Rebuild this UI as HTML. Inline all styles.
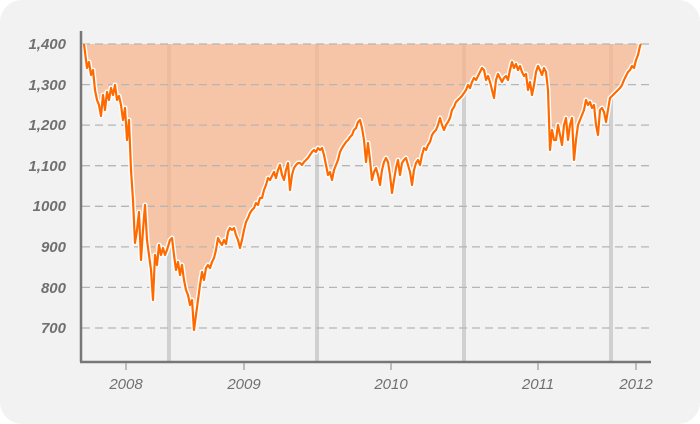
<!DOCTYPE html>
<html><head><meta charset="utf-8"><style>
html,body{margin:0;padding:0;background:#fff;}
svg{display:block;}
text{font-family:"Liberation Sans",sans-serif;}
</style></head><body>
<svg width="700" height="424" viewBox="0 0 700 424" xmlns="http://www.w3.org/2000/svg">
<rect x="0" y="0" width="700" height="424" rx="22" fill="#f2f2f2"/>
<g stroke="#d0d0d0" stroke-width="4">
<line x1="169" y1="44" x2="169" y2="361"/>
<line x1="317" y1="44" x2="317" y2="361"/>
<line x1="464" y1="44" x2="464" y2="361"/>
<line x1="611" y1="44" x2="611" y2="361"/>
</g>
<polygon id="fill" fill="#f7b68f" fill-opacity="0.75" points=""/>
<g stroke="#b5b5b5" stroke-width="1.3" stroke-dasharray="8,5">
<line x1="82" y1="44" x2="650" y2="44"/>
<line x1="82" y1="84.6" x2="650" y2="84.6"/>
<line x1="82" y1="125.1" x2="650" y2="125.1"/>
<line x1="82" y1="165.7" x2="650" y2="165.7"/>
<line x1="82" y1="206.3" x2="650" y2="206.3"/>
<line x1="82" y1="246.9" x2="650" y2="246.9"/>
<line x1="82" y1="287.4" x2="650" y2="287.4"/>
<line x1="82" y1="328" x2="650" y2="328"/>
</g>
<polyline id="halo" fill="none" stroke="#fff" stroke-width="5" stroke-linejoin="round" points=""/>
<polyline id="ln" fill="none" stroke="#ff6a00" stroke-width="2.2" stroke-linejoin="round" points=""/>
<g stroke="#777" stroke-width="2.5" fill="none">
<line x1="81" y1="31" x2="81" y2="362"/>
<line x1="80" y1="362" x2="651" y2="362"/>
</g>
<g stroke="#aaa" stroke-width="1.5">
<line x1="126" y1="363" x2="126" y2="370"/>
<line x1="244" y1="363" x2="244" y2="370"/>
<line x1="391" y1="363" x2="391" y2="370"/>
<line x1="538" y1="363" x2="538" y2="370"/>
<line x1="636" y1="363" x2="636" y2="370"/>
</g>
<g fill="#707070" font-size="15" font-style="italic" text-anchor="middle">
<text x="126" y="389">2008</text>
<text x="244" y="389">2009</text>
<text x="391" y="389">2010</text>
<text x="538" y="389">2011</text>
<text x="636" y="389">2012</text>
</g>
<g fill="#707070" font-size="15" font-style="italic" font-weight="bold" text-anchor="end">
<text x="66" y="49">1,400</text>
<text x="66" y="90">1,300</text>
<text x="66" y="130">1,200</text>
<text x="66" y="171">1,100</text>
<text x="66" y="211">1000</text>
<text x="66" y="252">900</text>
<text x="66" y="293">800</text>
<text x="66" y="333">700</text>
</g>
</svg>
<script>
var p="84 44,87 68,89 62,91 75,93 70,95 90,97 100,99 105,101 116,103 95,105 110,107 92,109 100,111 88,113 95,115 85,117 100,119 96,121 105,123 120,125 108,127 140,129 120,131 170,133 200,135 243,137 230,139 212,141 260,143 230,145 205,147 240,149 255,151 270,153 300,155 255,157 265,159 245,161 255,163 248,165 255,167 250,170 240,172 238,174 255,176 270,178 262,180 275,182 265,184 280,186 290,188 295,190 305,192 300,194 330,196 315,198 300,200 285,202 272,204 280,206 268,208 265,210 268,212 262,214 258,216 250,218 238,220 242,222 245,224 240,226 244,228 232,230 228,232 230,234 228,236 235,238 240,240 248,242 240,244 230,246 222,248 218,250 213,252 210,254 208,256 203,258 205,260 198,262 198,264 190,266 185,268 178,270 180,272 176,274 172,276 178,278 170,280 165,282 175,284 180,286 170,288 163,290 190,292 175,294 168,296 165,298 163,300 163,302 165,304 162,306 160,308 158,310 155,312 152,314 150,316 152,318 148,320 150,322 148,324 155,326 165,328 175,330 172,332 180,334 170,336 165,338 160,340 152,342 148,344 145,346 142,348 140,350 137,352 135,354 130,356 128,358 122,360 120,362 128,364 140,366 162,368 143,370 160,372 180,374 172,376 168,378 175,380 185,382 170,384 162,386 158,388 162,390 175,392 193,394 180,396 168,398 160,400 175,402 163,404 160,406 158,408 165,410 172,412 185,414 170,416 163,418 160,420 165,422 155,424 148,426 150,428 145,430 142,432 135,434 132,436 130,438 125,440 118,442 125,444 130,446 125,448 122,450 118,452 110,454 107,456 102,458 100,460 98,462 96,464 93,466 90,468 85,470 88,472 82,474 78,476 80,478 76,480 72,482 68,484 70,486 80,488 76,490 82,492 90,494 98,496 80,498 74,500 78,502 82,504 78,506 76,508 80,510 70,512 62,514 68,516 64,518 70,520 66,522 72,524 76,526 74,528 90,530 82,532 95,534 85,536 72,538 66,540 70,542 75,544 68,546 72,548 90,550 150,552 130,554 140,556 140,558 125,560 135,562 145,564 125,566 118,568 140,570 125,572 118,574 160,576 140,578 125,580 120,582 115,584 110,586 100,588 105,590 102,592 108,594 105,596 125,598 135,600 110,602 108,604 112,606 122,608 110,610 98,612 96,614 94,616 92,618 90,620 88,622 85,624 80,626 76,628 72,630 70,632 66,634 68,636 60,638 55,640 46,641 44";
document.getElementById('ln').setAttribute('points',p);
document.getElementById('halo').setAttribute('points',p);
document.getElementById('fill').setAttribute('points',p+",84 44");
</script>
</body></html>
